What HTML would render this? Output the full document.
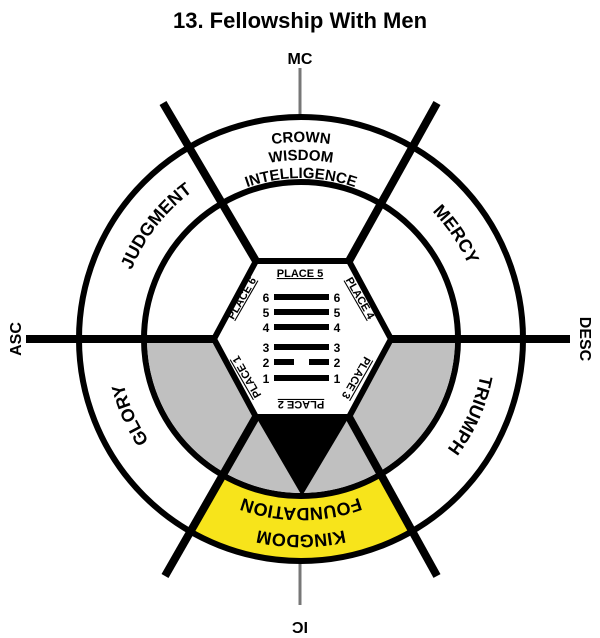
<!DOCTYPE html>
<html><head><meta charset="utf-8"><style>
html,body{margin:0;padding:0;background:#fff;}
svg{display:block;font-family:"Liberation Sans",Arial,sans-serif;font-weight:bold;}
</style></head><body>
<svg width="600" height="638" viewBox="0 0 600 638" xmlns="http://www.w3.org/2000/svg">
<defs>
<clipPath id="outer"><circle cx="301" cy="339" r="222"/></clipPath>
<clipPath id="lower"><rect x="0" y="339" width="600" height="300"/></clipPath>
<path id="p183" d="M 118 339 A 183 183 0 1 1 484 339 A 183 183 0 1 1 118 339"/>
<path id="p197" d="M 104 339 A 197 197 0 0 1 498 339"/>
<path id="p179" d="M 122 339 A 179 179 0 0 1 480 339"/>
<path id="p161" d="M 140 339 A 161 161 0 0 1 462 339"/>
<path id="k196" d="M 497 339 A 196 196 0 0 1 105 339"/>
<path id="k169" d="M 470 339 A 169 169 0 0 1 132 339"/>
</defs>
<text x="300" y="28" text-anchor="middle" font-size="22">13. Fellowship With Men</text>
<text x="300" y="64" text-anchor="middle" font-size="16">MC</text>
<line x1="300" y1="68" x2="300" y2="117" stroke="#777" stroke-width="3"/>
<line x1="300" y1="561" x2="300" y2="605" stroke="#777" stroke-width="3"/>
<text x="300" y="612" text-anchor="middle" font-size="16" transform="rotate(180 300 617)">IC</text>
<text x="0" y="0" text-anchor="middle" font-size="16" transform="translate(21 339) rotate(-90)">ASC</text>
<text x="0" y="0" text-anchor="middle" font-size="16" transform="translate(580 339) rotate(90)">DESC</text>

<circle cx="301" cy="339" r="222" fill="#fff"/>
<polygon clip-path="url(#outer)" points="256,417 121,655 483,655 349,417" fill="#f7e41b"/>
<circle cx="301" cy="339" r="222" fill="none" stroke="#000" stroke-width="6"/>
<circle cx="301" cy="339" r="157" fill="#fff" stroke="#000" stroke-width="6"/>
<circle cx="301" cy="339" r="154" fill="#c0c0c0" clip-path="url(#lower)"/>
<polygon points="214,339 256,261 349,261 391,339 349,417 256,417" fill="#fff" stroke="#000" stroke-width="6"/>
<polygon points="256,417 349,417 302,496" fill="#000"/>
<g stroke="#000" stroke-width="8">
<line x1="26" y1="339" x2="214" y2="339"/>
<line x1="391" y1="339" x2="570" y2="339"/>
<line x1="256" y1="261" x2="163" y2="103"/>
<line x1="349" y1="261" x2="437" y2="103"/>
<line x1="256" y1="417" x2="165" y2="576"/>
<line x1="349" y1="417" x2="437" y2="576"/>
</g>

<g font-size="15">
<text><textPath href="#p197" startOffset="50%" text-anchor="middle">CROWN</textPath></text>
<text><textPath href="#p179" startOffset="50%" text-anchor="middle">WISDOM</textPath></text>
<text><textPath href="#p161" startOffset="50%" text-anchor="middle">INTELLIGENCE</textPath></text>
</g>
<g font-size="18">
<text><textPath href="#p183" startOffset="121" text-anchor="middle">JUDGMENT</textPath></text>
<text><textPath href="#p183" startOffset="466" text-anchor="middle">MERCY</textPath></text>
<text><textPath href="#p183" startOffset="652" text-anchor="middle">TRIUMPH</textPath></text>
<text><textPath href="#p183" startOffset="1073" text-anchor="middle">GLORY</textPath></text>
<text><textPath href="#k196" startOffset="50%" text-anchor="middle">KINGDOM</textPath></text>
<text><textPath href="#k169" startOffset="50%" text-anchor="middle">FOUNDATION</textPath></text>
</g>

<g fill="#000">
<rect x="274" y="294" width="55" height="6"/>
<rect x="274" y="309" width="55" height="6"/>
<rect x="274" y="324" width="55" height="6"/>
<rect x="274" y="344" width="55" height="6"/>
<rect x="274" y="359" width="20" height="6"/>
<rect x="309" y="359" width="20" height="6"/>
<rect x="274" y="375" width="55" height="6"/>
</g>
<g font-size="12" text-anchor="middle">
<text x="266" y="302">6</text><text x="337" y="302">6</text>
<text x="266" y="317">5</text><text x="337" y="317">5</text>
<text x="266" y="332">4</text><text x="337" y="332">4</text>
<text x="266" y="352">3</text><text x="337" y="352">3</text>
<text x="266" y="367">2</text><text x="337" y="367">2</text>
<text x="266" y="383">1</text><text x="337" y="383">1</text>
</g>
<g font-size="11" text-anchor="middle">
<text x="300" y="277" text-decoration="underline">PLACE 5</text>
<text transform="translate(245 300) rotate(-60)" text-decoration="underline">PLACE 6</text>
<text transform="translate(357 300) rotate(60)" text-decoration="underline">PLACE 4</text>
<text transform="translate(250 375) rotate(-120)" text-decoration="overline">PLACE 1</text>
<text transform="translate(353 376) rotate(120)" text-decoration="overline">PLACE 3</text>
<text transform="translate(301 401) rotate(180)" text-decoration="underline">PLACE 2</text>
</g>
</svg>
</body></html>
